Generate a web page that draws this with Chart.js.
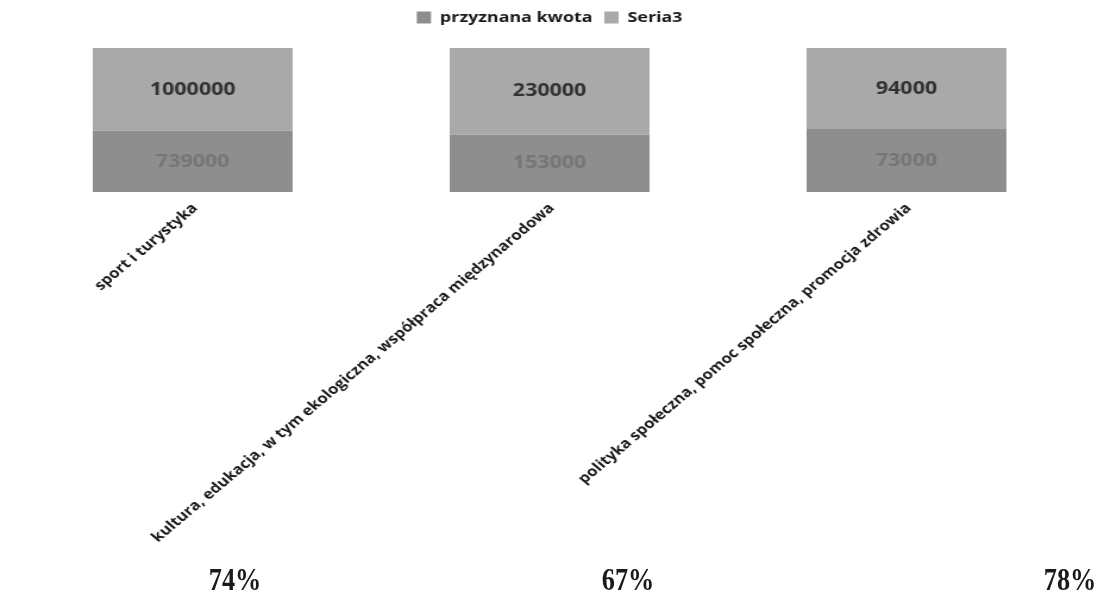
<!DOCTYPE html>
<html>
<head>
<meta charset="utf-8">
<script src="https://cdn.jsdelivr.net/npm/chart.js@4.4.1/dist/chart.umd.min.js"></script>
<style>
  body { margin: 0; background: #fff; }
  #wrap { position: relative; width: 1098px; height: 598px; overflow: hidden; }
  /* skan jest rozciągnięty w poziomie, stąd scaleX */
  #box { position: absolute; left: 0; top: 0; width: 923px; height: 598px; transform: scaleX(1.1896); transform-origin: 0 0; }
  .pct { position: absolute; top: 561px; width: 90px; margin-left: -45px; text-align: center; font: bold 32px "Liberation Serif", serif; color: #1a1a1a; transform: scaleX(0.82); }
</style>
</head>
<body>
<div id="wrap">
  <div id="box"><canvas id="chart"></canvas></div>
</div>
<script>
// dane z wykresu
const categories = [
  'sport i turystyka',
  'kultura, edukacja, w tym ekologiczna, współpraca międzynarodowa',
  'polityka społeczna, pomoc społeczna, promocja zdrowia'
];
const przyznanaKwota = [739000, 153000, 73000];
const seria3 = [1000000, 230000, 94000];

// procenty pod wykresem (przyznana / wnioskowana)
const pctX = [235, 628, 1070];
const wrap = document.getElementById('wrap');
categories.forEach((c, i) => {
  const el = document.createElement('div');
  el.className = 'pct';
  el.style.left = pctX[i] + 'px';
  el.textContent = Math.round(przyznanaKwota[i] / seria3[i] * 100) + '%';
  wrap.appendChild(el);
});

// każda kategoria ma własną oś Y (jak osobne wykresy obok siebie)
const datasets = [];
const scales = {
  x: {
    stacked: true,
    grid: { display: false },
    border: { display: false },
    ticks: {
      autoSkip: false,
      minRotation: 45,
      maxRotation: 45,
      padding: 0,
      labelOffset: 2,
      color: '#1a1a1a',
      font: { family: 'Open Sans', size: 14, weight: 'bold' }
    },
    afterFit: s => { s.height = 406; }
  }
};
categories.forEach((c, i) => {
  const only = arr => categories.map((_, j) => (j === i ? arr[i] : null));
  datasets.push({
    label: 'przyznana kwota',
    data: only(przyznanaKwota),
    yAxisID: 'y' + i,
    stack: 'a',
    backgroundColor: '#8e8e8e',
    valueColor: '#767676'
  });
  datasets.push({
    label: 'Seria3',
    data: only(seria3),
    yAxisID: 'y' + i,
    stack: 'a',
    backgroundColor: '#a9a9a9',
    valueColor: '#333333'
  });
  scales['y' + i] = {
    display: false,
    stacked: true,
    min: 0,
    max: przyznanaKwota[i] + seria3[i]
  };
});

// wartości w środku słupków
const valueLabels = {
  id: 'valueLabels',
  afterDatasetsDraw(chart) {
    const ctx = chart.ctx;
    ctx.save();
    ctx.font = 'bold 18px "Open Sans"';
    ctx.textAlign = 'center';
    ctx.textBaseline = 'middle';
    chart.data.datasets.forEach((ds, di) => {
      const meta = chart.getDatasetMeta(di);
      meta.data.forEach((bar, j) => {
        if (ds.data[j] == null) return;
        ctx.fillStyle = ds.valueColor;
        ctx.fillText(String(ds.data[j]), bar.x, (bar.y + bar.base) / 2);
      });
    });
    ctx.restore();
  }
};

// odstęp pod legendą
const legendGap = {
  id: 'legendGap',
  beforeInit(chart) {
    const fit = chart.legend.fit;
    chart.legend.fit = function () {
      fit.call(this);
      this.height = 48;
    };
  }
};

new Chart(document.getElementById('chart').getContext('2d'), {
  type: 'bar',
  data: { labels: categories, datasets: datasets },
  options: {
    responsive: true,
    maintainAspectRatio: false,
    animation: false,
    categoryPercentage: 0.8,
    barPercentage: 0.7,
    layout: { padding: { left: 12, right: 11, top: 0, bottom: 0 } },
    scales: scales,
    plugins: {
      legend: {
        position: 'top',
        labels: {
          filter: item => item.datasetIndex < 2,
          boxWidth: 12,
          boxHeight: 12,
          padding: 10,
          color: '#1a1a1a',
          font: { family: 'Open Sans', size: 15, weight: 'bold' }
        }
      },
      tooltip: { enabled: false }
    }
  },
  plugins: [valueLabels, legendGap]
});
</script>
</body>
</html>
